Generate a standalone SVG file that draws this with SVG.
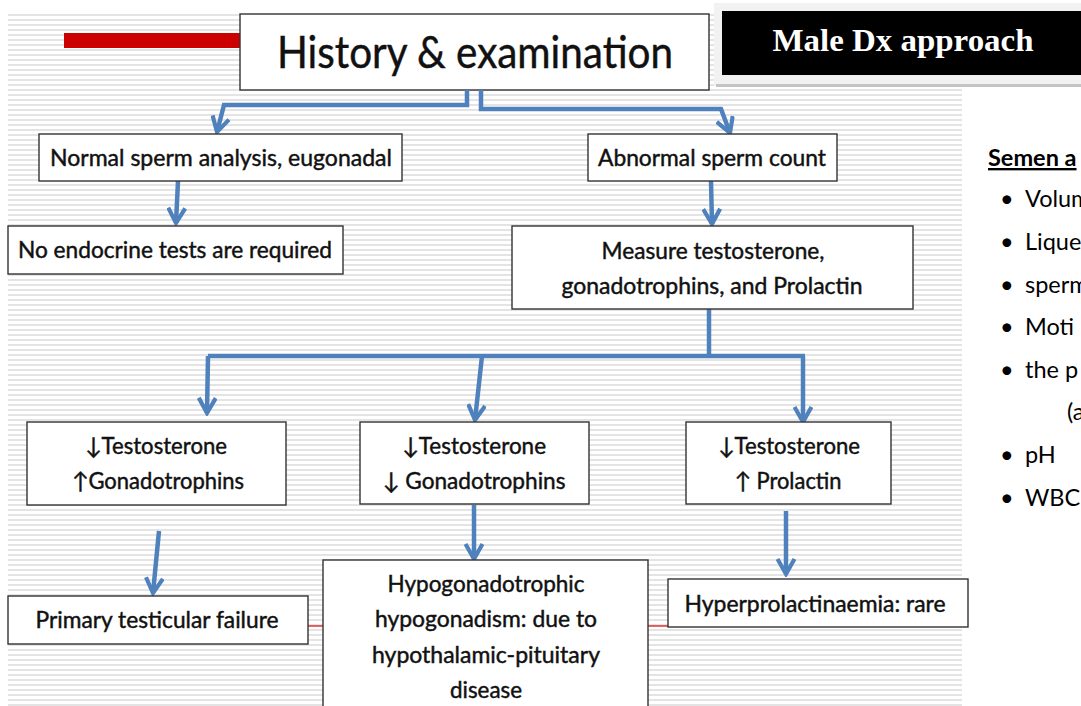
<svg xmlns="http://www.w3.org/2000/svg" width="1081" height="706" viewBox="0 0 1081 706">
<style>
.box{fill:#fff;stroke:#333;stroke-width:1.4}
.t{font-family:Lato,"Liberation Sans",sans-serif;fill:#111;stroke:#111;stroke-width:0.45;text-anchor:middle}
.m{font-size:23px}
.side{font-family:Lato,"Liberation Sans",sans-serif;font-size:23.5px;fill:#000}
.conn{fill:none;stroke:#4f81bd;stroke-width:4.5;stroke-linejoin:miter}
.red{stroke:#e00000;stroke-width:1.2}
</style>
<defs>
<pattern id="stripes" x="0" y="14" width="10" height="5" patternUnits="userSpaceOnUse">
<rect x="0" y="0" width="10" height="2" fill="#e4e4e4"/>
</pattern>
<marker id="arr" viewBox="0 0 20 20" refX="17" refY="10" markerWidth="20" markerHeight="20" markerUnits="userSpaceOnUse" orient="auto">
<path d="M2,1.5 L17,10 L2,18.5" fill="none" stroke="#4f81bd" stroke-width="4.2" stroke-linejoin="miter"/>
</marker>
</defs>
<rect width="1081" height="706" fill="#fff"/>
<g id="background">
<rect x="8" y="14" width="954" height="692" fill="url(#stripes)"/>
<rect x="64" y="33" width="176" height="15" fill="#cc0000"/>
</g>
<g id="male-dx">
<rect x="714" y="3" width="367" height="83" fill="#f2f2f2"/>
<rect x="716" y="84" width="365" height="3" fill="#c4c4c4"/>
<rect x="722" y="11" width="359" height="64" fill="#000"/>
<text x="903" y="51" font-family="'Liberation Serif',serif" font-weight="bold" font-size="32" fill="#fff" text-anchor="middle" textLength="261" lengthAdjust="spacingAndGlyphs">Male Dx approach</text>
</g>
<g id="title">
<rect x="240" y="14" width="469" height="76" class="box"/>
<text class="t" x="475" y="68" font-size="45" stroke-width="0.9" textLength="396" lengthAdjust="spacingAndGlyphs">History &amp; examination</text>
</g>
<g id="connectors">
<path class="conn" d="M467,90 V105 H224 L217,132" marker-end="url(#arr)"/>
<path class="conn" d="M481,90 V109 H721 L730,133" marker-end="url(#arr)"/>
<path class="conn" d="M178,181 L176,223" marker-end="url(#arr)"/>
<path class="conn" d="M711,181 L712,224" marker-end="url(#arr)"/>
<path class="conn" d="M709,309 V356"/>
<path class="conn" d="M805,356 H208"/>
<path class="conn" d="M208,356 L207,413" marker-end="url(#arr)"/>
<path class="conn" d="M482,356 L475,420" marker-end="url(#arr)"/>
<path class="conn" d="M803,356 V422" marker-end="url(#arr)"/>
<path class="conn" d="M159,531 L153,593" marker-end="url(#arr)"/>
<path class="conn" d="M474,505 V559" marker-end="url(#arr)"/>
<path class="conn" d="M786,511 V574" marker-end="url(#arr)"/>
<line class="red" x1="308" y1="626" x2="323" y2="626"/>
<line class="red" x1="648" y1="626" x2="668" y2="626"/>
</g>
<g id="normal">
<rect x="39" y="134" width="363" height="47" class="box"/>
<text class="t m" x="221" y="166" textLength="342" lengthAdjust="spacingAndGlyphs">Normal sperm analysis, eugonadal</text>
</g>
<g id="abnormal">
<rect x="588" y="134" width="249" height="47" class="box"/>
<text class="t m" x="712" y="166" textLength="228" lengthAdjust="spacingAndGlyphs">Abnormal sperm count</text>
</g>
<g id="no-endocrine">
<rect x="8" y="226" width="335" height="48" class="box"/>
<text class="t m" x="175" y="258" textLength="314" lengthAdjust="spacingAndGlyphs">No endocrine tests are required</text>
</g>
<g id="measure">
<rect x="512" y="226" width="401" height="83" class="box"/>
<text class="t m" x="713" y="259" textLength="223" lengthAdjust="spacingAndGlyphs">Measure testosterone,</text>
<text class="t m" x="712" y="294" textLength="301" lengthAdjust="spacingAndGlyphs">gonadotrophins, and Prolactin</text>
</g>
<g id="primary-pattern">
<rect x="27" y="422" width="259" height="83" class="box"/>
<text class="t m" x="156" y="454" textLength="142" lengthAdjust="spacingAndGlyphs">↓Testosterone</text>
<text class="t m" x="158" y="489" textLength="172" lengthAdjust="spacingAndGlyphs">↑Gonadotrophins</text>
</g>
<g id="secondary-pattern">
<rect x="360" y="422" width="229" height="82" class="box"/>
<text class="t m" x="474" y="454" textLength="144" lengthAdjust="spacingAndGlyphs">↓Testosterone</text>
<text class="t m" x="474" y="489" textLength="183" lengthAdjust="spacingAndGlyphs">↓ Gonadotrophins</text>
</g>
<g id="prolactin-pattern">
<rect x="686" y="422" width="205" height="82" class="box"/>
<text class="t m" x="789" y="454" textLength="142" lengthAdjust="spacingAndGlyphs">↓Testosterone</text>
<text class="t m" x="788" y="489" textLength="107" lengthAdjust="spacingAndGlyphs">↑ Prolactin</text>
</g>
<g id="primary-failure">
<rect x="8" y="596" width="300" height="48" class="box"/>
<text class="t m" x="157" y="628" textLength="243" lengthAdjust="spacingAndGlyphs">Primary testicular failure</text>
</g>
<g id="hypogonadism">
<rect x="323" y="560" width="325" height="160" class="box"/>
<text class="t m" x="486" y="592" textLength="197" lengthAdjust="spacingAndGlyphs">Hypogonadotrophic</text>
<text class="t m" x="486" y="627" textLength="222" lengthAdjust="spacingAndGlyphs">hypogonadism: due to</text>
<text class="t m" x="486" y="663" textLength="228" lengthAdjust="spacingAndGlyphs">hypothalamic-pituitary</text>
<text class="t m" x="486" y="698" textLength="72" lengthAdjust="spacingAndGlyphs">disease</text>
</g>
<g id="hyperprolactinaemia">
<rect x="668" y="579" width="300" height="48" class="box"/>
<text class="t m" x="815" y="612" textLength="261" lengthAdjust="spacingAndGlyphs">Hyperprolactinaemia: rare</text>
</g>
<g id="semen">
<text class="side" x="988" y="166" font-weight="bold" text-decoration="underline">Semen a</text>
<text class="side" x="1000" y="207">•</text><text class="side" x="1025" y="207">Volum</text>
<text class="side" x="1000" y="250">•</text><text class="side" x="1025" y="250">Lique</text>
<text class="side" x="1000" y="293">•</text><text class="side" x="1025" y="293">sperm</text>
<text class="side" x="1000" y="335">•</text><text class="side" x="1025" y="335">Moti</text>
<text class="side" x="1000" y="378">•</text><text class="side" x="1025" y="378">the p</text>
<text class="side" x="1067" y="420">(a</text>
<text class="side" x="1000" y="463">•</text><text class="side" x="1025" y="463">pH</text>
<text class="side" x="1000" y="506">•</text><text class="side" x="1025" y="506">WBC</text>
</g>
</svg>
